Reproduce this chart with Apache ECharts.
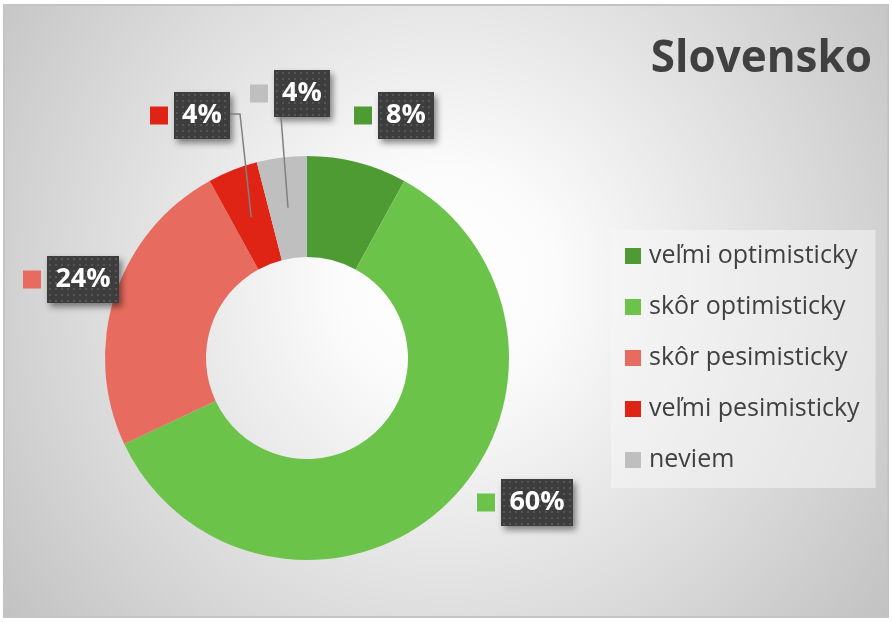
<!DOCTYPE html>
<html lang="sk">
<head>
    <meta charset="UTF-8">
    <title>Slovensko</title>
    <script src="https://cdn.jsdelivr.net/npm/echarts@6/dist/echarts.min.js"></script>
    <style>
        html, body {
            margin: 0;
            padding: 0;
            width: 892px;
            height: 622px;
            overflow: hidden;
            background: #ffffff;
        }
        #frame {
            position: absolute;
            left: 3px;
            top: 4px;
            width: 886px;
            height: 614px;
            box-sizing: border-box;
            border: 2px solid #c4c4c4;
            background: radial-gradient(circle farthest-corner at 50% 45%, #ffffff 0%, #fbfbfb 20%, #c2c2c2 100%);
        }
        #chart {
            position: absolute;
            left: 0;
            top: 0;
            width: 892px;
            height: 622px;
        }
    </style>
</head>
<body>
<div id="frame"></div>
<div id="chart"></div>
<script>
    // data
    var categories = ['veľmi optimisticky', 'skôr optimisticky', 'skôr pesimisticky', 'veľmi pesimisticky', 'neviem'];
    var values = [8, 60, 24, 4, 4];
    var colors = ['#4f9b33', '#6cc34a', '#e76c5f', '#df2415', '#bfbfbf'];

    // layout
    var pieCenter = [307, 358];
    var pieRadius = [101, 202];
    var labelPos = [[354, 92], [477, 479], [23, 256], [150, 92], [250, 70]]; // top-left of each data label
    var leaderStart = {3: [[230, 114], [240, 114]], 4: [[281, 117]]};
    var fontName = '"Open Sans"';

    function dotted(w, h) {
        var c = document.createElement('canvas');
        c.width = w;
        c.height = h;
        var ctx = c.getContext('2d');
        ctx.fillStyle = '#3d3d3d';
        ctx.fillRect(0, 0, w, h);
        ctx.fillStyle = '#555555';
        for (var y = 2; y < h; y += 6) {
            for (var x = 2; x < w; x += 6) {
                ctx.fillRect(x, y, 2, 2);
            }
        }
        return c;
    }

    var boxStyle = function (w) {
        return {
            width: w,
            height: 47,
            align: 'center',
            verticalAlign: 'middle',
            color: '#ffffff',
            fontSize: 27,
            fontWeight: 'bold',
            fontFamily: fontName,
            backgroundColor: {image: dotted(w, 47)},
            shadowBlur: 6,
            shadowColor: 'rgba(0,0,0,0.45)',
            shadowOffsetX: 3,
            shadowOffsetY: 4
        };
    };

    var rich = {
        gap: {width: 6, height: 18},
        bs: boxStyle(56),
        bl: boxStyle(72)
    };
    for (var i = 0; i < colors.length; i++) {
        rich['sq' + i] = {width: 18, height: 18, backgroundColor: colors[i], verticalAlign: 'middle'};
    }

    // mid-ring anchor for a slice, from the data
    var total = values.reduce(function (a, b) { return a + b; }, 0);
    function anchor(idx) {
        var before = 0;
        for (var k = 0; k < idx; k++) before += values[k];
        var mid = (before + values[idx] / 2) / total * Math.PI * 2;
        var r = (pieRadius[0] + pieRadius[1]) / 2;
        return [pieCenter[0] + r * Math.sin(mid), pieCenter[1] - r * Math.cos(mid)];
    }

    function placeLabel(params) {
        var idx = params.dataIndex;
        var res = {x: labelPos[idx][0], y: labelPos[idx][1], align: 'left', verticalAlign: 'top'};
        if (leaderStart[idx]) {
            var pts = leaderStart[idx].slice();
            var end = anchor(idx);
            if (pts.length === 1) {
                pts.push([(pts[0][0] + end[0]) / 2, (pts[0][1] + end[1]) / 2]);
            }
            pts.push(end);
            res.labelLinePoints = pts;
        }
        return res;
    }

    var pieBase = {
        type: 'pie',
        center: pieCenter,
        radius: pieRadius,
        startAngle: 90,
        clockwise: true,
        avoidLabelOverlap: false,
        emphasis: {disabled: true},
        labelLayout: placeLabel
    };

    var chart = echarts.init(document.getElementById('chart'), null, {renderer: 'canvas'});
    chart.setOption({
        backgroundColor: 'transparent',
        animation: false,
        title: {
            text: 'Slovensko',
            right: 15,
            top: 32,
            textStyle: {fontFamily: fontName, fontWeight: 'bold', fontSize: 44, color: '#404040'}
        },
        legend: {
            orient: 'vertical',
            left: 611,
            top: 230,
            padding: [12, 16, 14, 14],
            itemGap: 23,
            itemWidth: 16,
            itemHeight: 16,
            icon: 'rect',
            selectedMode: false,
            backgroundColor: 'rgba(246,246,246,0.55)',
            textStyle: {fontFamily: fontName, fontSize: 25, color: '#404040', lineHeight: 28, padding: [0, 0, 0, 3]},
            data: categories
        },
        series: [
            Object.assign({}, pieBase, {
                z: 2,
                label: {
                    show: true,
                    position: 'outside',
                    rich: rich,
                    formatter: function (p) {
                        var box = p.value >= 10 ? 'bl' : 'bs';
                        return '{sq' + p.dataIndex + '|}{gap|}{' + box + '|' + p.value + '%}';
                    }
                },
                labelLine: {show: false},
                data: values.map(function (v, idx) {
                    return {name: categories[idx], value: v, itemStyle: {color: colors[idx]}};
                })
            }),
            // same slices, transparent, only to draw leader lines above the ring
            Object.assign({}, pieBase, {
                z: 3,
                silent: true,
                itemStyle: {color: 'rgba(0,0,0,0)'},
                label: {show: true, position: 'outside', formatter: ' ', fontSize: 1},
                data: values.map(function (v, idx) {
                    var lead = !!leaderStart[idx];
                    return {
                        name: categories[idx],
                        value: v,
                        label: {show: lead},
                        labelLine: {show: lead, lineStyle: {color: '#808080', width: 1.5}}
                    };
                })
            })
        ]
    });
</script>
</body>
</html>
